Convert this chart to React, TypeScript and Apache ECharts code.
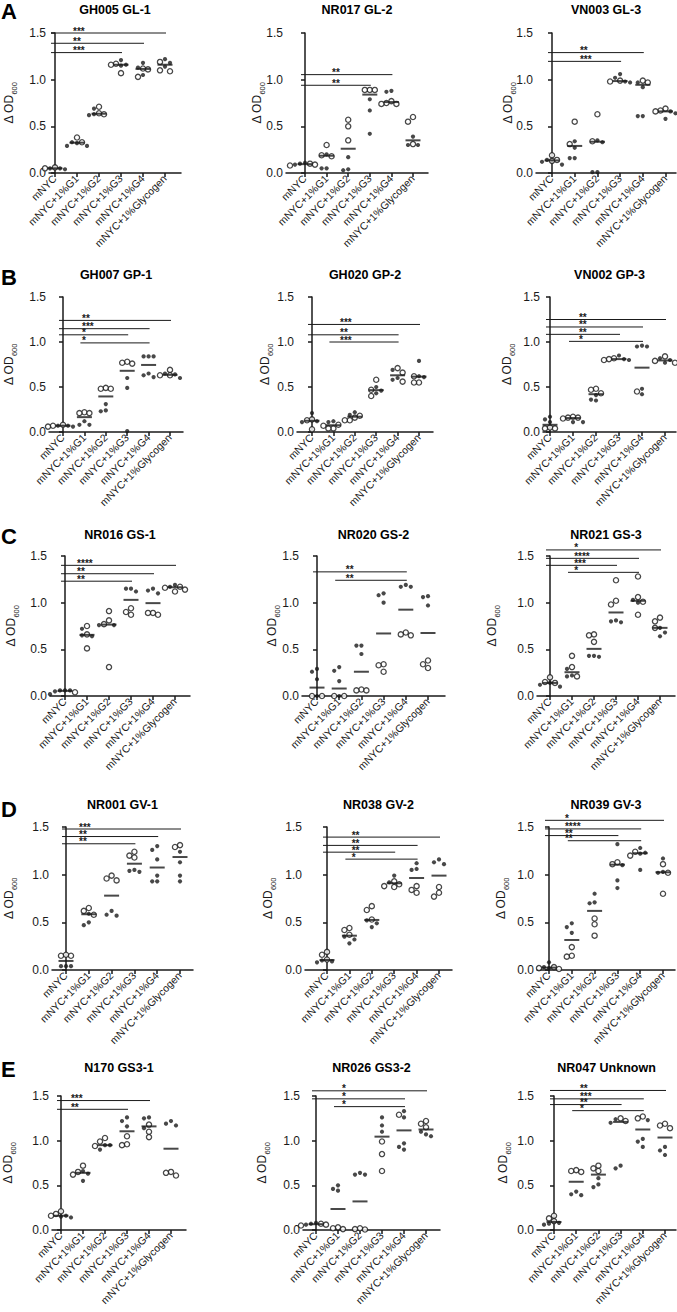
import React, { useEffect, useRef } from "react";
import * as echarts from "echarts";

// ---------- categories / labels ----------
const CATEGORIES = ["mNYC", "mNYC+1%G1", "mNYC+1%G2", "mNYC+1%G3", "mNYC+1%G4", "mNYC+1%Glycogen"];
const Y_MIN = 0;
const Y_MAX = 1.5;
const Y_STEP = 0.5;
const ROW_LETTERS = ["A", "B", "C", "D", "E"];
const TITLES = [
  "GH005 GL-1", "NR017 GL-2", "VN003 GL-3",
  "GH007 GP-1", "GH020 GP-2", "VN002 GP-3",
  "NR016 GS-1", "NR020 GS-2", "NR021 GS-3",
  "NR001 GV-1", "NR038 GV-2", "NR039 GV-3",
  "N170 GS3-1", "NR026 GS3-2", "NR047 Unknown",
];

// ---------- data: replicate values per group (filled dots / open circles) ----------
const GH005_FILLED = [[0.05, 0.04, 0.05], [0.33, 0.32, 0.29, 0.29], [0.69, 0.63, 0.62], [1.21, 1.16, 1.15], [1.18, 1.13, 1.05], [1.22, 1.18, 1.14]];
const GH005_OPEN = [[0.06, 0.05], [0.38, 0.33], [0.71, 0.64, 0.63], [1.17, 1.16, 1.07], [1.12, 1.11, 1.03], [1.19, 1.10, 1.09]];
const GH005_SIG = [[0, 5, 1.5, "***"], [0, 4, 1.39, "**"], [0, 3, 1.29, "***"]];

const NR017_FILLED = [[0.10, 0.09, 0.11], [0.20, 0.05, 0.05], [0.17, 0.04, 0.03], [0.79, 0.67, 0.42], [0.88, 0.87], [0.39, 0.30, 0.30]];
const NR017_OPEN = [[0.10, 0.09, 0.08], [0.30, 0.19, 0.18], [0.57, 0.50, 0.35], [0.89, 0.89, 0.89], [0.77, 0.75, 0.74, 0.74], [0.60, 0.55, 0.31]];
const NR017_SIG = [[0, 4, 1.054, "**"], [0, 3, 0.94, "**"]];

const VN003_FILLED = [[0.14, 0.12, 0.09], [0.34, 0.27, 0.16, 0.16], [0.35, 0.33, 0.01, 0.01], [1.06, 1.02, 0.98, 0.97], [0.97, 0.92, 0.61, 0.61], [0.66, 0.64, 0.58]];
const VN003_OPEN = [[0.19, 0.14, 0.13], [0.55, 0.31], [0.63, 0.34], [0.99, 0.98], [0.99, 0.97], [0.69, 0.67, 0.66]];
const VN003_SIG = [[0, 4, 1.29, "**"], [0, 3, 1.196, "***"]];

const GH007_FILLED = [[0.07, 0.07, 0.06], [0.12, 0.08, 0.08], [0.31, 0.24, 0.23], [0.60, 0.49, 0.01], [0.84, 0.84, 0.84, 0.65, 0.63, 0.61], [0.65, 0.64, 0.60]];
const GH007_OPEN = [[0.07, 0.08, 0.06], [0.22, 0.21, 0.21], [0.49, 0.48, 0.48], [0.78, 0.77, 0.76], [], [0.69, 0.63, 0.63]];
const GH007_SIG = [[0, 5, 1.24, "**"], [0, 4, 1.148, "***"], [0, 3, 1.08, "*"], [1, 4, 0.99, "*"]];

const GH020_FILLED = [[0.21, 0.12, 0.11], [0.12, 0.11], [0.22, 0.19], [0.50, 0.46, 0.43], [0.69, 0.60, 0.58], [0.79, 0.62, 0.61]];
const GH020_OPEN = [[0.14, 0.13, 0.03], [0.08, 0.07, 0.04, 0.04], [0.18, 0.16, 0.13, 0.13], [0.58, 0.47, 0.40], [0.71, 0.66, 0.56], [0.62, 0.55, 0.55]];
const GH020_SIG = [[0, 5, 1.195, "***"], [0, 4, 1.08, "**"], [1, 4, 1.0, "***"]];

const VN002_FILLED = [[0.17, 0.14, 0.11], [0.11, 0.11], [0.41, 0.36, 0.35], [0.85, 0.81, 0.80], [0.96, 0.95, 0.95, 0.48, 0.42], [0.82, 0.80, 0.77]];
const VN002_OPEN = [[0.05, 0.04, 0.04], [0.17, 0.16, 0.16, 0.15], [0.48, 0.47, 0.43], [0.82, 0.81, 0.80], [0.45], [0.84, 0.79, 0.77]];
const VN002_SIG = [[0, 5, 1.25, "**"], [0, 4, 1.167, "**"], [0, 3, 1.085, "**"], [1, 4, 1.007, "*"]];

const NR016_FILLED = [[0.06, 0.06, 0.06, 0.05, 0.02], [0.72, 0.65, 0.64], [0.76, 0.76], [1.15, 1.15, 1.12], [1.15, 1.13, 1.10], [1.19, 1.17]];
const NR016_OPEN = [[0.04], [0.75, 0.66, 0.51], [0.91, 0.81, 0.77, 0.31], [0.94, 0.90, 0.87], [0.89, 0.89, 0.87], [1.17, 1.16, 1.14, 1.12]];
const NR016_SIG = [[0, 5, 1.4, "****"], [0, 4, 1.31, "**"], [0, 3, 1.23, "**"]];

const NR020_FILLED = [[0.29, 0.26, 0.18, 0.0], [0.31, 0.27, 0.16, 0.0], [0.54, 0.54, 0.45], [1.10, 1.08, 1.0], [1.19, 1.17, 1.17], [1.07, 1.06, 0.97]];
const NR020_OPEN = [[0.0, 0.0], [0.0, 0.0], [0.07, 0.06, 0.06], [0.34, 0.33, 0.26], [0.68, 0.66, 0.65], [0.38, 0.34, 0.30]];
const NR020_SIG = [[0, 4, 1.33, "**"], [1, 4, 1.24, "**"]];

const NR021_FILLED = [[0.14, 0.12, 0.10], [0.29, 0.22, 0.21], [0.43, 0.43, 0.42], [0.81, 0.80, 0.79], [1.03, 1.00], [0.73, 0.68, 0.64]];
const NR021_OPEN = [[0.20, 0.15, 0.14], [0.43, 0.31, 0.21], [0.66, 0.65, 0.58], [1.24, 1.02, 0.98], [1.28, 1.06, 1.01, 0.87], [0.84, 0.80, 0.73]];
const NR021_SIG = [[0, 5, 1.565, "*"], [0, 4, 1.475, "****"], [0, 3, 1.4, "***"], [1, 4, 1.325, "*"]];

const NR001_FILLED = [[0.04, 0.04, 0.04], [0.59, 0.50, 0.47], [0.62, 0.58, 0.57], [1.05, 1.04, 1.03], [1.30, 1.26, 1.16, 0.99, 0.93, 0.93], [1.24, 1.13, 0.99, 0.93]];
const NR001_OPEN = [[0.16, 0.15, 0.15], [0.65, 0.62, 0.58], [0.99, 0.96, 0.94], [1.24, 1.20, 1.18], [], [1.31, 1.29]];
const NR001_SIG = [[0, 5, 1.479, "***"], [0, 4, 1.4, "**"], [0, 3, 1.324, "**"]];

const NR038_FILLED = [[0.10, 0.09, 0.08], [0.35, 0.32, 0.28], [0.52, 0.49, 0.45], [0.99, 0.92], [1.12, 1.06, 1.05], [1.16, 1.13, 1.11]];
const NR038_OPEN = [[0.19, 0.16, 0.11], [0.44, 0.42, 0.37], [0.67, 0.63, 0.53], [0.93, 0.90, 0.88, 0.87], [0.88, 0.84, 0.81], [0.87, 0.81, 0.77]];
const NR038_SIG = [[0, 5, 1.394, "**"], [0, 4, 1.307, "**"], [0, 3, 1.236, "**"], [1, 4, 1.163, "*"]];

const NR039_FILLED = [[0.08, 0.03, 0.02], [0.49, 0.45, 0.39], [0.80, 0.71, 0.70], [1.32, 1.10, 0.94, 0.86], [1.28, 1.23, 1.22, 1.05], [1.17, 1.03, 1.02]];
const NR039_OPEN = [[0.03, 0.02, 0.01], [0.24, 0.15, 0.14], [0.54, 0.48, 0.36], [1.13, 1.11], [1.24, 1.20], [1.11, 1.02, 0.80]];
const NR039_SIG = [[0, 5, 1.57, "*"], [0, 4, 1.48, "****"], [0, 3, 1.41, "**"], [1, 4, 1.356, "**"]];

const N170_FILLED = [[0.16, 0.15, 0.14], [0.66, 0.63, 0.55], [0.95, 0.95, 0.90], [1.26, 1.22, 1.16], [1.26, 1.25, 1.14], [1.22, 1.19, 1.17]];
const N170_OPEN = [[0.21, 0.18, 0.16], [0.72, 0.65, 0.62], [1.03, 0.99, 0.94], [1.05, 0.96, 0.95], [1.18, 1.10, 1.04], [0.65, 0.64, 0.61]];
const N170_SIG = [[0, 4, 1.449, "***"], [0, 3, 1.351, "**"]];

const NR026_FILLED = [[0.08, 0.07, 0.06], [0.50, 0.46, 0.44], [0.64, 0.62, 0.62], [1.26, 1.17, 1.10], [1.33, 1.26, 0.97, 0.93, 0.90], [1.10, 1.07, 1.05]];
const NR026_OPEN = [[0.07, 0.06, 0.05], [0.03, 0.02, 0.01], [0.02, 0.01, 0.005], [0.99, 0.85, 0.66], [1.29], [1.22, 1.19, 1.15]];
const NR026_SIG = [[0, 5, 1.558, "*"], [0, 4, 1.468, "*"], [1, 4, 1.381, "*"]];

const NR047_FILLED = [[0.08, 0.07, 0.06], [0.43, 0.40, 0.39], [0.58, 0.51, 0.48], [1.24, 1.20, 0.72, 0.69], [1.23, 1.02, 0.99, 0.93], [0.93, 0.89, 0.84]];
const NR047_OPEN = [[0.16, 0.13, 0.10], [0.67, 0.66, 0.65], [0.72, 0.69, 0.66], [1.25, 1.22], [1.27, 1.25], [1.19, 1.17, 1.14]];
const NR047_SIG = [[0, 5, 1.562, "**"], [0, 4, 1.468, "***"], [0, 3, 1.404, "**"], [1, 4, 1.336, "*"]];

const PANEL_FILLED = [GH005_FILLED, NR017_FILLED, VN003_FILLED, GH007_FILLED, GH020_FILLED, VN002_FILLED, NR016_FILLED, NR020_FILLED, NR021_FILLED, NR001_FILLED, NR038_FILLED, NR039_FILLED, N170_FILLED, NR026_FILLED, NR047_FILLED];
const PANEL_OPEN = [GH005_OPEN, NR017_OPEN, VN003_OPEN, GH007_OPEN, GH020_OPEN, VN002_OPEN, NR016_OPEN, NR020_OPEN, NR021_OPEN, NR001_OPEN, NR038_OPEN, NR039_OPEN, N170_OPEN, NR026_OPEN, NR047_OPEN];
const PANEL_SIG = [GH005_SIG, NR017_SIG, VN003_SIG, GH007_SIG, GH020_SIG, VN002_SIG, NR016_SIG, NR020_SIG, NR021_SIG, NR001_SIG, NR038_SIG, NR039_SIG, N170_SIG, NR026_SIG, NR047_SIG];

// ---------- layout (pixels) ----------
// per panel: [axisLeft, firstCategoryX, categorySpacing, axisRight, yNameX, starsX(in category units)]
const PANEL_LAYOUT = [
  [49, 55, 22, 181, 9, 0.82], [286, 305, 21.6, 428, 257, 1.25], [536, 552, 22.7, 676, 508, 1.23],
  [49, 63, 21.4, 183, 9, 0.89], [297, 312, 21.4, 433, 265, 1.31], [543, 550, 23, 676, 507, 1.26],
  [50, 65, 22, 190, 11, 0.55], [302, 317, 22.2, 445, 272, 1.3], [537, 550, 22, 675, 492, 1.1],
  [52, 66, 22.8, 193, 9, 0.57], [305, 327, 22.4, 452, 268, 1.1], [537, 549, 22.8, 675, 501, 0.7],
  [52, 61, 22, 186, 8, 0.45], [303, 316, 22, 440, 262, 1.18], [537, 554, 22.2, 676, 503, 1.17],
];
// per row: [plotTop, plotBottom, titleY, letterY]
const ROW_LAYOUT = [
  [33, 173, 10, 11],
  [297, 432, 275, 277],
  [556, 696, 535, 536],
  [827, 970, 805, 809],
  [1096, 1230, 1068, 1069],
];

const FONT = 'Arial, "Liberation Sans", Helvetica, sans-serif';
const INK = "#1a1a1a";

function median(arr: number[]) {
  const s = [...arr].sort((a, b) => a - b);
  const n = s.length;
  if (!n) return 0;
  return n % 2 ? s[(n - 1) / 2] : (s[n / 2 - 1] + s[n / 2]) / 2;
}

// GraphPad-like horizontal spreading of overlapping points (pixel based)
function swarm(pts: { v: number; open: boolean }[], pxPerUnit: number, spacing: number) {
  const d = 5;
  const sorted = [...pts].sort((a, b) => b.v - a.v);
  const placed: { dx: number; py: number; v: number; open: boolean }[] = [];
  const cands = [0, -d, d, -2 * d, 2 * d, -3 * d, 3 * d];
  for (const p of sorted) {
    const py = p.v * pxPerUnit;
    let chosen = cands[cands.length - 1];
    for (const dx of cands) {
      if (placed.every((q) => Math.abs(q.dx - dx) >= d - 0.1 || Math.abs(q.py - py) >= d)) {
        chosen = dx;
        break;
      }
    }
    placed.push({ dx: chosen, py, v: p.v, open: p.open });
  }
  return placed.map((q) => ({ dx: q.dx / spacing, v: q.v, open: q.open }));
}

function buildOption() {
  const grid: any[] = [];
  const xAxis: any[] = [];
  const yAxis: any[] = [];
  const series: any[] = [];
  const graphic: any[] = [];
  const catIdx = CATEGORIES.map((_, i) => i);

  ROW_LAYOUT.forEach((row, r) => {
    graphic.push({
      type: "text",
      x: 1,
      y: row[3],
      style: { text: ROW_LETTERS[r], font: `bold 22px ${FONT}`, fill: "#000", align: "left", verticalAlign: "middle" },
    });
  });

  PANEL_LAYOUT.forEach((lay, idx) => {
    const r = Math.floor(idx / 3);
    const [left, first, sp, right, nameX, starX] = lay;
    const [top, bottom, titleY] = ROW_LAYOUT[r];
    const height = bottom - top;
    const pxPerUnit = height / (Y_MAX - Y_MIN);
    const xmin = -(first - left) / sp;
    const xmax = 5 + (right - first - 5 * sp) / sp;

    grid.push({ left, top, width: right - left, height, containLabel: false });
    xAxis.push({
      type: "value",
      gridIndex: idx,
      min: xmin,
      max: xmax,
      axisLine: { show: true, onZero: false, lineStyle: { color: INK, width: 1.5 } },
      axisTick: { show: true, customValues: catIdx, length: 4, lineStyle: { color: INK, width: 1.5 } },
      axisLabel: {
        show: true,
        customValues: catIdx,
        rotate: 45,
        margin: 4,
        fontSize: 10.5,
        fontFamily: FONT,
        color: "#1a1a1a",
        formatter: (v: number) => CATEGORIES[Math.round(v)] ?? "",
      },
      splitLine: { show: false },
    });
    yAxis.push({
      type: "value",
      gridIndex: idx,
      min: Y_MIN,
      max: Y_MAX,
      interval: Y_STEP,
      axisLine: { show: true, lineStyle: { color: INK, width: 1.5 } },
      axisTick: { show: true, length: 4, lineStyle: { color: INK, width: 1.5 } },
      axisLabel: { fontSize: 12, fontFamily: FONT, color: "#1a1a1a", margin: 3, formatter: (v: number) => v.toFixed(1) },
      splitLine: { show: false },
    });

    // title
    graphic.push({
      type: "text",
      x: (left + right) / 2,
      y: titleY,
      style: { text: TITLES[idx], font: `bold 12.5px ${FONT}`, fill: "#000", align: "center", verticalAlign: "middle" },
    });
    // y-axis name  Δ OD600
    graphic.push({
      type: "text",
      x: nameX,
      y: (top + bottom) / 2,
      rotation: Math.PI / 2,
      style: {
        text: "{a|Δ OD}{b|600}",
        align: "center",
        verticalAlign: "middle",
        fill: "#1a1a1a",
        rich: {
          a: { fontSize: 12, fontFamily: FONT, lineHeight: 18, verticalAlign: "middle", fill: "#1a1a1a" },
          b: { fontSize: 7.5, fontFamily: FONT, lineHeight: 9, verticalAlign: "bottom", fill: "#1a1a1a" },
        },
      },
    });

    const filled = PANEL_FILLED[idx];
    const open = PANEL_OPEN[idx];
    const filledData: number[][] = [];
    const openData: number[][] = [];
    const medData: number[][] = [];
    for (let g = 0; g < CATEGORIES.length; g++) {
      const pts = [
        ...(filled[g] || []).map((v) => ({ v, open: false })),
        ...(open[g] || []).map((v) => ({ v, open: true })),
      ];
      swarm(pts, pxPerUnit, sp).forEach((q) => {
        (q.open ? openData : filledData).push([g + q.dx, q.v]);
      });
      medData.push([g, median(pts.map((p) => p.v))]);
    }

    series.push({
      type: "scatter",
      xAxisIndex: idx,
      yAxisIndex: idx,
      data: filledData,
      symbol: "circle",
      symbolSize: 4.2,
      clip: false,
      silent: true,
      itemStyle: { color: INK },
      z: 3,
    });
    series.push({
      type: "scatter",
      xAxisIndex: idx,
      yAxisIndex: idx,
      data: openData,
      symbol: "circle",
      symbolSize: 5.2,
      clip: false,
      silent: true,
      itemStyle: { color: "#fff", borderColor: INK, borderWidth: 1.3 },
      z: 4,
    });
    series.push({
      type: "scatter",
      xAxisIndex: idx,
      yAxisIndex: idx,
      data: medData,
      symbol: "rect",
      symbolSize: [15, 2],
      clip: false,
      silent: true,
      itemStyle: { color: INK },
      z: 5,
    });
    const sig = PANEL_SIG[idx];
    series.push({
      type: "custom",
      xAxisIndex: idx,
      yAxisIndex: idx,
      clip: false,
      silent: true,
      itemStyle: { color: INK },
      data: sig.map((s) => [s[0], s[1], s[2]]),
      encode: { x: [0, 1], y: 2 },
      z: 6,
      renderItem: (params: any, api: any) => {
        const i = params.dataIndex;
        const y = api.value(2);
        const a = api.coord([api.value(0), y]);
        const b = api.coord([api.value(1), y]);
        const s = api.coord([starX, y]);
        return {
          type: "group",
          children: [
            {
              type: "line",
              shape: { x1: a[0] - 4, y1: a[1], x2: b[0] + 1, y2: b[1] },
              style: { stroke: INK, lineWidth: 1, fill: null },
            },
            {
              type: "text",
              x: s[0],
              y: a[1] + 3,
              style: {
                text: String(sig[i][3]),
                font: `bold 10px ${FONT}`,
                fill: INK,
                stroke: null,
                lineWidth: 0,
                align: "left",
                verticalAlign: "bottom",
              },
            },
          ],
        };
      },
    });
  });

  return {
    animation: false,
    backgroundColor: "#fff",
    color: [INK],
    textStyle: { fontFamily: FONT },
    grid,
    xAxis,
    yAxis,
    series,
    graphic,
  };
}

export default function App() {
  const ref = useRef<HTMLDivElement>(null);
  useEffect(() => {
    if (!ref.current) return;
    const chart = echarts.init(ref.current, null, { renderer: "svg" });
    chart.setOption(buildOption() as any);
    return () => chart.dispose();
  }, []);
  return (
    <div
      ref={ref}
      style={{ position: "absolute", left: 0, top: 0, width: 677, height: 1312, background: "#fff" }}
    />
  );
}
